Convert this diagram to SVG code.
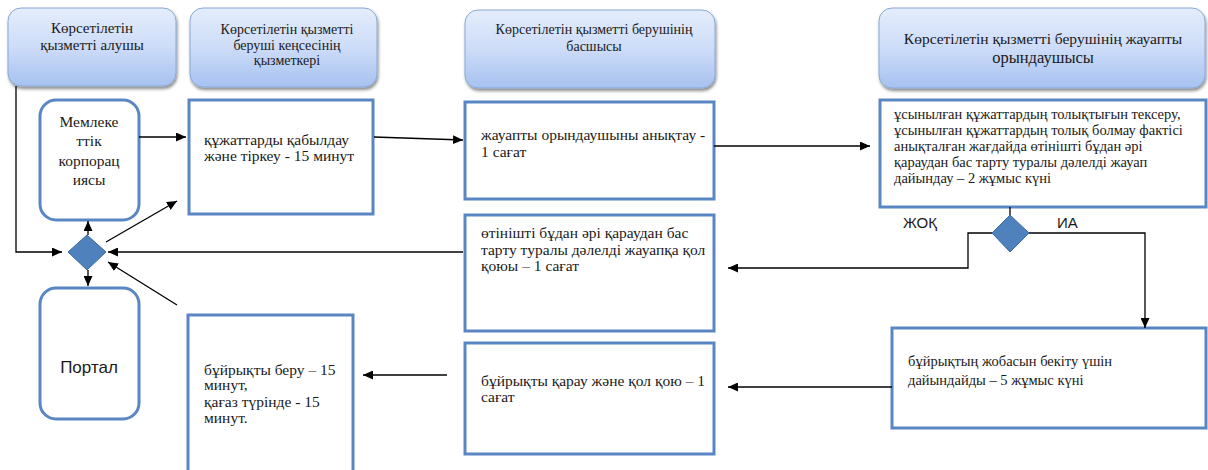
<svg xmlns="http://www.w3.org/2000/svg" width="1208" height="470" viewBox="0 0 1208 470">
<defs>
<linearGradient id="hg" x1="0" y1="0" x2="0" y2="1">
<stop offset="0" stop-color="#e4edfc"/>
<stop offset="0.5" stop-color="#cddcf8"/>
<stop offset="1" stop-color="#a6c2f0"/>
</linearGradient>
<filter id="sh" x="-10%" y="-10%" width="120%" height="130%">
<feDropShadow dx="1" dy="2.5" stdDeviation="1.5" flood-color="#000" flood-opacity="0.45"/>
</filter>
<marker id="ar" markerUnits="userSpaceOnUse" markerWidth="11" markerHeight="9" refX="10" refY="4.5" orient="auto">
<path d="M0,0 L10,4.5 L0,9 z" fill="#000"/>
</marker>
</defs>
<style>
.hdr{fill:url(#hg);stroke:#8aa9d6;stroke-width:1;filter:url(#sh)}
.box{fill:#fff;stroke:#5a86c4;stroke-width:3}
.dia{fill:#4f81bd;stroke:#3b6aa6;stroke-width:1}
.t{font-family:"Liberation Serif","Times New Roman",serif;font-size:14.5px;fill:#1a1a1a}
.tb{font-family:"Liberation Serif","Times New Roman",serif;font-size:15.5px;fill:#1a1a1a}
.s{font-family:"Liberation Sans",Arial,sans-serif;fill:#1a1a1a}
.c{stroke:#000;stroke-width:1.3;fill:none}
.ca{stroke:#000;stroke-width:1.3;fill:none;marker-end:url(#ar)}
</style>
<rect width="1208" height="470" fill="#fff"/>

<g id="h1">
<rect class="hdr" x="8" y="8" width="168" height="78" rx="13"/>
<text class="t" text-anchor="middle" style="font-size:15px"><tspan x="92" y="33">Көрсетілетін</tspan><tspan x="92" y="50">қызметті алушы</tspan></text>
</g>
<g id="h2">
<rect class="hdr" x="190" y="8" width="187" height="79" rx="13"/>
<text class="t" text-anchor="middle" style="font-size:14px"><tspan x="287" y="34">Көрсетілетін қызметті</tspan><tspan x="287" y="50">беруші кеңсесінің</tspan><tspan x="287" y="65">қызметкері</tspan></text>
</g>
<g id="h3">
<rect class="hdr" x="465" y="10" width="250" height="78" rx="13"/>
<text class="t" text-anchor="middle" style="font-size:14px"><tspan x="594" y="34">Көрсетілетін қызметті берушінің</tspan><tspan x="594" y="51">басшысы</tspan></text>
</g>
<g id="h4">
<rect class="hdr" x="879" y="8" width="326" height="80" rx="13"/>
<text class="t" text-anchor="middle" style="font-size:15.5px"><tspan x="1043" y="44">Көрсетілетін қызметті берушінің жауапты</tspan><tspan x="1043" y="63" style="font-size:16.5px">орындаушысы</tspan></text>
</g>

<g id="n_corp">
<rect class="box" x="40" y="100" width="99" height="120" rx="16"/>
<text class="tb" text-anchor="middle"><tspan x="89" y="127">Мемлеке</tspan><tspan x="89" y="146">ттік</tspan><tspan x="89" y="166">корпорац</tspan><tspan x="89" y="185">иясы</tspan></text>
</g>
<g id="n_portal">
<rect class="box" x="40" y="288" width="99" height="131" rx="16"/>
<text class="s" x="89" y="373" text-anchor="middle" font-size="17">Портал</text>
</g>
<g id="d1">
<polygon class="dia" points="87,235 106,252 87,270 68,252"/>
</g>
<g id="n_receive">
<rect class="box" x="189" y="100" width="184" height="114"/>
<text class="tb"><tspan x="204" y="145">құжаттарды қабылдау</tspan><tspan x="204" y="161">және тіркеу - 15 минут</tspan></text>
</g>
<g id="n_issue">
<rect class="box" x="188" y="315" width="165" height="160"/>
<text class="tb"><tspan x="204" y="375">бұйрықты беру – 15</tspan><tspan x="204" y="390">минут,</tspan><tspan x="204" y="407">қағаз түрінде - 15</tspan><tspan x="204" y="423">минут.</tspan></text>
</g>
<g id="n_assign">
<rect class="box" x="465" y="102" width="249" height="97"/>
<text class="tb"><tspan x="481" y="140">жауапты орындаушыны анықтау -</tspan><tspan x="481" y="157">1 сағат</tspan></text>
</g>
<g id="n_sign_refusal">
<rect class="box" x="465" y="215" width="249" height="116"/>
<text class="tb"><tspan x="481" y="238">өтінішті бұдан әрі қараудан бас</tspan><tspan x="481" y="255">тарту туралы дәлелді жауапқа қол</tspan><tspan x="481" y="271">қоюы – 1 сағат</tspan></text>
</g>
<g id="n_review_order">
<rect class="box" x="465" y="343" width="249" height="111"/>
<text class="tb"><tspan x="481" y="386">бұйрықты қарау және қол қою – 1</tspan><tspan x="481" y="402">сағат</tspan></text>
</g>
<g id="n_check">
<rect class="box" x="880" y="100" width="326" height="107"/>
<text class="t"><tspan x="894" y="119">ұсынылған құжаттардың толықтығын тексеру,</tspan><tspan x="894" y="135">ұсынылған құжаттардың толық болмау фактісі</tspan><tspan x="894" y="151">анықталған жағдайда өтінішті бұдан әрі</tspan><tspan x="894" y="167">қараудан бас тарту туралы дәлелді жауап</tspan><tspan x="894" y="183">дайындау – 2 жұмыс күні</tspan></text>
</g>
<g id="d2">
<polygon class="dia" points="1010,215 1029,233 1010,252 992,233"/>
</g>
<g id="n_prepare_order">
<rect class="box" x="892" y="328" width="314" height="100"/>
<text class="t"><tspan x="908" y="366">бұйрықтың жобасын бекіту үшін</tspan><tspan x="908" y="385">дайындайды – 5 жұмыс күні</tspan></text>
</g>
<g id="labels">
<text class="s" x="903" y="228" font-size="15">ЖОҚ</text>
<text class="s" x="1057" y="228" font-size="15">ИА</text>
</g>

<g id="connectors">
<path class="ca" d="M16 86 V252 H62"/>
<path class="ca" d="M139 137 H186"/>
<path class="ca" d="M88 235 V221"/>
<path class="ca" d="M88 270 V286"/>
<path class="ca" d="M106 242 L177 201"/>
<path class="ca" d="M177 305 L108 262"/>
<path class="ca" d="M463 252 H108"/>
<path class="ca" d="M374 137 L463 140"/>
<path class="ca" d="M714 146 H870"/>
<path class="c" d="M1010 207 V215"/>
<path class="ca" d="M992 233 H968 V268 H728"/>
<path class="ca" d="M1029 233 H1145 V328"/>
<path class="ca" d="M892 387 H728"/>
<path class="ca" d="M447 375 H363"/>
</g>
</svg>
